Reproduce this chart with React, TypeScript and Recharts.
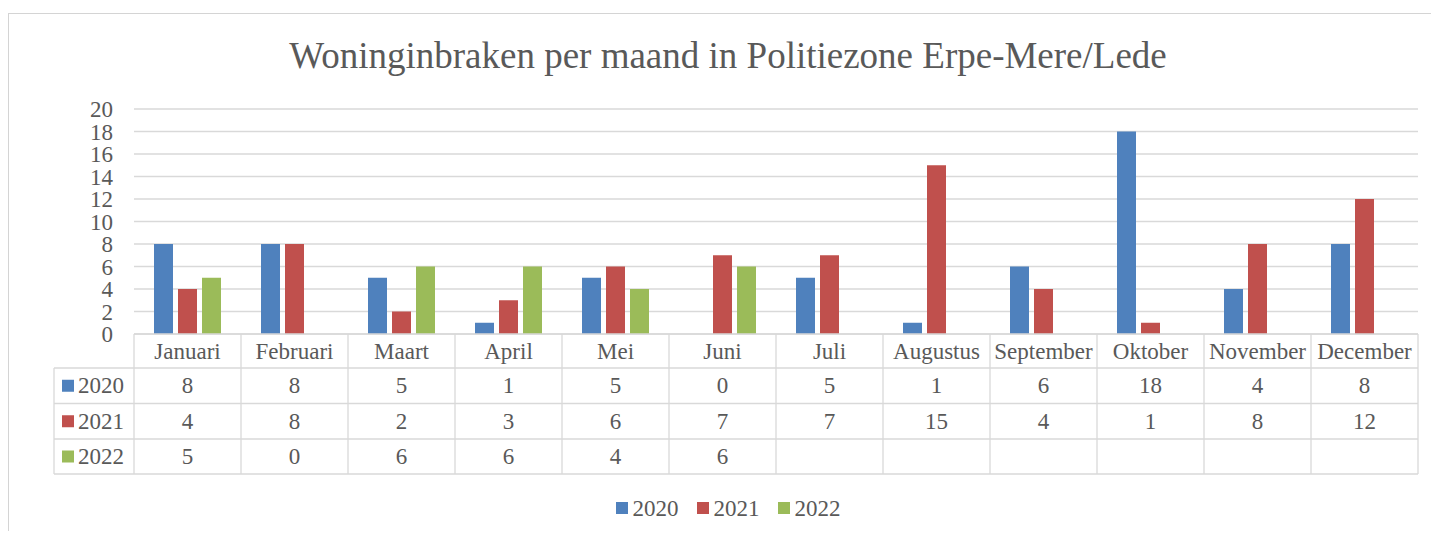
import React from 'react';
import { BarChart, Bar, XAxis, YAxis, CartesianGrid, Legend, Customized } from 'recharts';

const months = ['Januari', 'Februari', 'Maart', 'April', 'Mei', 'Juni', 'Juli', 'Augustus', 'September', 'Oktober', 'November', 'December'];
const values2020: (number | null)[] = [8, 8, 5, 1, 5, 0, 5, 1, 6, 18, 4, 8];
const values2021: (number | null)[] = [4, 8, 2, 3, 6, 7, 7, 15, 4, 1, 8, 12];
const values2022: (number | null)[] = [5, 0, 6, 6, 4, 6, null, null, null, null, null, null];
const seriesNames = ['2020', '2021', '2022'];
const seriesKeys = ['y2020', 'y2021', 'y2022'];
const seriesValues = [values2020, values2021, values2022];
const seriesColors = ['#4f81bd', '#c0504d', '#9bbb59'];
const yTicks = [0, 2, 4, 6, 8, 10, 12, 14, 16, 18, 20];
const title = 'Woninginbraken per maand in Politiezone Erpe-Mere/Lede';

const data = months.map((m, i) => ({
  month: m,
  y2020: values2020[i],
  y2021: values2021[i],
  y2022: values2022[i],
}));

const FONT = "'Liberation Serif', 'Times New Roman', serif";
const TEXT = '#595959';
const LINE = '#d9d9d9';
const W = 1431;
const H = 523;
const MARGIN = { top: 101, right: 21, left: 66, bottom: 17 };
const Y_WIDTH = 60;
const PLOT_W = W - MARGIN.left - MARGIN.right - Y_WIDTH;
const BAND = PLOT_W / months.length;
const ROWS = [0, 34, 69.5, 105, 140];
const LEFT_COL = 80;

const TableTick = (props: any) => {
  const { x, y, payload } = props;
  const i = props.index ?? months.indexOf(payload.value);
  const l = x - BAND / 2;
  const r = x + BAND / 2;
  const fs = 23;
  const mid = (a: number, b: number) => y + (ROWS[a] + ROWS[b]) / 2 + 7.5;
  const els: React.ReactNode[] = [];
  els.push(<line key="vl" x1={l} x2={l} y1={y} y2={y + ROWS[4]} stroke={LINE} strokeWidth={1.3} />);
  if (i === months.length - 1) {
    els.push(<line key="vr" x1={r} x2={r} y1={y} y2={y + ROWS[4]} stroke={LINE} strokeWidth={1.3} />);
  }
  for (let k = 1; k < ROWS.length; k++) {
    els.push(<line key={'h' + k} x1={l} x2={r} y1={y + ROWS[k]} y2={y + ROWS[k]} stroke={LINE} strokeWidth={1.3} />);
  }
  els.push(
    <text key="cat" x={x} y={mid(0, 1)} textAnchor="middle" fill={TEXT} fontSize={fs} style={{ fontFamily: FONT }}>
      {payload.value}
    </text>
  );
  seriesValues.forEach((vals, s) => {
    const v = vals[i];
    if (v !== null && v !== undefined) {
      els.push(
        <text key={'v' + s} x={x} y={mid(s + 1, s + 2)} textAnchor="middle" fill={TEXT} fontSize={fs} style={{ fontFamily: FONT }}>
          {v}
        </text>
      );
    }
  });
  if (i === 0) {
    const xl = l - LEFT_COL;
    els.push(<line key="lv" x1={xl} x2={xl} y1={y + ROWS[1]} y2={y + ROWS[4]} stroke={LINE} strokeWidth={1.3} />);
    for (let k = 1; k < ROWS.length; k++) {
      els.push(<line key={'lh' + k} x1={xl} x2={l} y1={y + ROWS[k]} y2={y + ROWS[k]} stroke={LINE} strokeWidth={1.3} />);
    }
    seriesNames.forEach((n, s) => {
      const cy = y + (ROWS[s + 1] + ROWS[s + 2]) / 2;
      els.push(<rect key={'sq' + s} x={xl + 8} y={cy - 6} width={12} height={12} fill={seriesColors[s]} />);
      els.push(
        <text key={'sn' + s} x={xl + 24} y={cy + 7.5} fill={TEXT} fontSize={fs} style={{ fontFamily: FONT }}>
          {n}
        </text>
      );
    });
  }
  return <g>{els}</g>;
};

const LegendContent = () => (
  <div style={{ display: 'flex', justifyContent: 'center', alignItems: 'center', height: 40, fontFamily: FONT, fontSize: 23, color: TEXT }}>
    {seriesNames.map((n, s) => (
      <div key={n} style={{ display: 'flex', alignItems: 'center', marginRight: s < seriesNames.length - 1 ? 18 : 0 }}>
        <span style={{ display: 'inline-block', width: 12, height: 12, background: seriesColors[s], marginRight: 5 }} />
        <span style={{ lineHeight: '23px', fontFamily: FONT }}>{n}</span>
      </div>
    ))}
  </div>
);

const Title = () => (
  <text x={720} y={60} textAnchor="middle" fill={TEXT} fontSize={37} style={{ fontFamily: FONT }}>
    {title}
  </text>
);

export default function App() {
  return (
    <div style={{ position: 'relative', width: W, height: H, fontFamily: FONT }}>
      <div
        style={{
          position: 'absolute',
          left: 0,
          top: 5,
          width: W,
          height: H - 5,
          borderLeft: '1px solid #d4d4d4',
          borderTop: '1px solid #d4d4d4',
          boxSizing: 'border-box',
        }}
      />
      <BarChart width={W} height={H} data={data} margin={MARGIN} barGap={5} style={{ position: 'absolute', left: 0, top: 0, fontFamily: FONT }}>
        <Customized component={<Title />} />
        <CartesianGrid vertical={false} stroke={LINE} strokeWidth={1.3} />
        <XAxis
          dataKey="month"
          height={140}
          axisLine={{ stroke: LINE, strokeWidth: 1.3 }}
          tickLine={false}
          tickSize={0}
          tickMargin={0}
          interval={0}
          tick={<TableTick />}
        />
        <YAxis
          width={Y_WIDTH}
          domain={[0, 20]}
          ticks={yTicks}
          axisLine={false}
          tickLine={false}
          tickSize={6}
          tickMargin={15}
          interval={0}
          tick={{ fill: TEXT, fontSize: 23, fontFamily: FONT, style: { fontFamily: FONT } }}
        />
        <Legend
          height={40}
          content={<LegendContent />}
          wrapperStyle={{ top: 480, left: 0, width: 1440, height: 40 }}
        />
        {seriesKeys.map((k, s) => (
          <Bar key={k} dataKey={k} name={seriesNames[s]} fill={seriesColors[s]} barSize={19} isAnimationActive={false} />
        ))}
      </BarChart>
    </div>
  );
}
